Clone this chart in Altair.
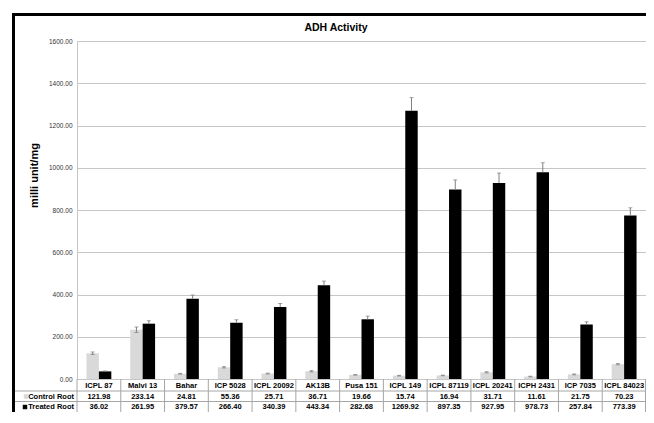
import altair as alt
import pandas as pd

categories = ["ICPL 87", "Malvi 13", "Bahar", "ICP 5028", "ICPL 20092", "AK13B", "Pusa 151",
              "ICPL 149", "ICPL 87119", "ICPL 20241", "ICPH 2431", "ICP 7035", "ICPL 84023"]
control = [121.98, 233.14, 24.81, 55.36, 25.71, 36.71, 19.66, 15.74, 16.94, 31.71, 11.61, 21.75, 70.23]
treated = [36.02, 261.95, 379.57, 266.40, 340.39, 443.34, 282.68, 1269.92, 897.35, 927.95, 978.73, 257.84, 773.39]
control_err = [6, 13, 2, 3, 2, 3, 1.5, 1.5, 1.5, 3, 1.5, 2, 3]
treated_err = [2, 14, 18, 14, 17, 20, 15, 62, 45, 47, 45, 13, 37]
series = ["Control Root", "Treated Root"]
y_ticks = [0, 200, 400, 600, 800, 1000, 1200, 1400, 1600]

rows = []
for i, c in enumerate(categories):
    rows.append({"cat": c, "series": series[0], "value": control[i], "err": control_err[i],
                 "lo": control[i] - control_err[i], "hi": control[i] + control_err[i]})
    rows.append({"cat": c, "series": series[1], "value": treated[i], "err": treated_err[i],
                 "lo": treated[i], "hi": treated[i] + treated_err[i]})
df = pd.DataFrame(rows)
df_cats = pd.DataFrame({"cat": categories})
df_series = pd.DataFrame({"series": series})
one = pd.DataFrame({"k": [0]})

PAD_L, PAD_T = 69, 33
W, H = 569, 338
FONT = "Liberation Sans, Arial, sans-serif"
GRID = "#c6c6c6"
ERR = "#7f7f7f"

xscale = alt.Scale(domain=categories, paddingInner=0, paddingOuter=0)
xaxis = alt.Axis(labels=False, ticks=False, domainColor=GRID, grid=False, title=None)
yscale = alt.Scale(domain=[0, 1600], nice=False)
yaxis = alt.Axis(values=y_ticks, format=".2f", ticks=False, domainColor=GRID, gridColor=GRID,
                 labelFontSize=6.5, labelColor="#333333", labelFont=FONT, labelPadding=5,
                 title="milli unit/mg", titleFontSize=11, titleFont=FONT, titleFontWeight="bold",
                 titleColor="#000000", titleX=-43, titleY=134, titleBaseline="middle")
xoff = alt.XOffset("series:N", sort=series, scale=alt.Scale(domain=series, paddingOuter=0.76, paddingInner=0))
X = alt.X("cat:N", sort=categories, scale=xscale, axis=xaxis)

bars = alt.Chart(df).mark_bar().encode(
    x=X, xOffset=xoff,
    y=alt.Y("value:Q", scale=yscale, axis=yaxis),
    color=alt.Color("series:N", scale=alt.Scale(domain=series, range=["#d9d9d9", "#000000"]), legend=None),
)
err_rule = alt.Chart(df).mark_rule(color=ERR, strokeWidth=1).encode(
    x=X, xOffset=xoff,
    y=alt.Y("lo:Q", scale=yscale, axis=yaxis), y2="hi:Q",
)
cap_top = alt.Chart(df).mark_tick(color=ERR, size=4, thickness=1).encode(
    x=X, xOffset=xoff, y=alt.Y("hi:Q", scale=yscale, axis=yaxis),
)
cap_bot = alt.Chart(df).mark_tick(color=ERR, size=4, thickness=1).transform_filter(
    alt.datum.series == "Control Root").encode(
    x=X, xOffset=xoff, y=alt.Y("lo:Q", scale=yscale, axis=yaxis),
)

# data table under the plot
TL = "#a6a6a6"
R1, R2 = 12, 22.5
vlines = alt.Chart(df_cats).mark_rule(color=TL, strokeWidth=1).encode(
    x=alt.X("cat:N", sort=categories, scale=xscale, axis=xaxis, bandPosition=0),
    y=alt.value(H), y2=alt.value(H + 50),
)
rline = alt.Chart(one).mark_rule(color=TL, strokeWidth=1).encode(
    x=alt.value(W - 0.5), y=alt.value(H), y2=alt.value(H + 50))
hline1 = alt.Chart(one).mark_rule(color=TL, strokeWidth=1).encode(
    x=alt.value(-65), x2=alt.value(W), y=alt.value(H + R1))
hline2 = alt.Chart(one).mark_rule(color=TL, strokeWidth=1).encode(
    x=alt.value(-65), x2=alt.value(W), y=alt.value(H + R2))

TXT = dict(font=FONT, fontWeight="bold", baseline="middle", color="#000000")
cat_text = alt.Chart(df_cats).mark_text(fontSize=7.5, **TXT).encode(
    x=X, y=alt.value(H + 6.5), text="cat:N")
ctrl_text = alt.Chart(df).transform_filter(alt.datum.series == "Control Root").mark_text(
    fontSize=7.5, **TXT).encode(
    x=X, y=alt.value(H + 17.5), text=alt.Text("value:Q", format=".2f"))
trt_text = alt.Chart(df).transform_filter(alt.datum.series == "Treated Root").mark_text(
    fontSize=7.5, **TXT).encode(
    x=X, y=alt.value(H + 28), text=alt.Text("value:Q", format=".2f"))

row_ctrl = alt.Chart(df_series).transform_filter(alt.datum.series == "Control Root").mark_text(
    fontSize=7.5, align="right", **TXT).encode(
    x=alt.value(-3), y=alt.value(H + 17.5), text="series:N")
row_trt = alt.Chart(df_series).transform_filter(alt.datum.series == "Treated Root").mark_text(
    fontSize=7.5, align="right", **TXT).encode(
    x=alt.value(-3), y=alt.value(H + 28), text="series:N")
sq_ctrl = alt.Chart(one).mark_square(size=20, filled=True, opacity=1, color="#d9d9d9").encode(
    x=alt.value(-51), y=alt.value(H + 17.5))
sq_trt = alt.Chart(one).mark_square(size=20, filled=True, opacity=1, color="#000000").encode(
    x=alt.value(-52), y=alt.value(H + 28))

title = alt.Chart(one).mark_text(font=FONT, fontSize=10.5, fontWeight="bold", align="center",
                                 baseline="alphabetic", color="#000000").encode(
    x=alt.value(259), y=alt.value(-10), text=alt.value("ADH Activity"))

border_top = alt.Chart(one).mark_rule(color="#000000", strokeWidth=3).encode(
    x=alt.value(-65), x2=alt.value(W + 30), y=alt.value(-26.5))
border_left = alt.Chart(one).mark_rule(color="#000000", strokeWidth=3).encode(
    x=alt.value(-63.5), y=alt.value(-28), y2=alt.value(H + 60))

chart = alt.layer(
    bars, err_rule, cap_top, cap_bot,
    vlines, rline, hline1, hline2, cat_text, ctrl_text, trt_text,
    row_ctrl, row_trt, sq_ctrl, sq_trt, title, border_top, border_left,
).properties(
    width=W, height=H,
    autosize=alt.AutoSizeParams(type="none"),
    padding={"left": PAD_L, "top": PAD_T, "right": 0, "bottom": 33},
).configure_view(stroke=None).configure(background="#ffffff")

chart.save("out.html", embed_options={"renderer": "svg", "actions": False})
